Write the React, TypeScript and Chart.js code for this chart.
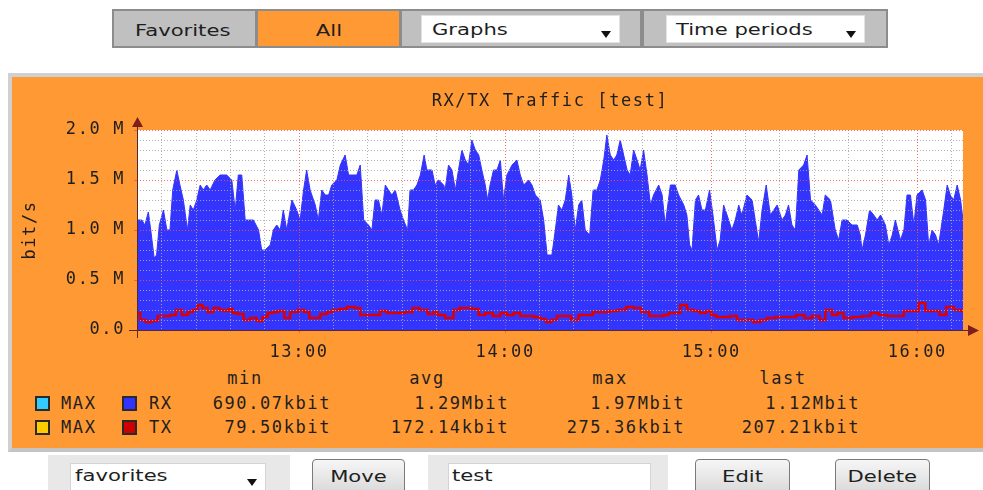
import React, { useEffect, useRef } from "react";
import { Chart, registerables } from "chart.js";

Chart.register(...registerables);

// ---- data (minutes after 12:00, Mbit/s) ----
const rxTimes = [
  12.8, 14.2, 15.1, 16.1, 16.8, 17.8, 18.5, 19.3, 20.5, 21.5,
  22.4, 23.2, 24.4, 25.3, 26.3, 27.5, 28.3, 29.2, 30.2, 31.2,
  32.1, 33.1, 34.1, 35.5, 37.0, 38.9, 40.4, 41.4, 42.3, 43.3,
  44.3, 45.3, 46.7, 48.2, 49.1, 50.1, 51.6, 52.5, 53.5, 54.5,
  55.4, 56.4, 57.9, 59.3, 60.3, 61.3, 62.2, 63.2, 64.7, 65.6,
  66.6, 67.6, 68.6, 69.5, 71.0, 72.0, 73.4, 74.4, 75.4, 76.8,
  77.8, 78.8, 80.2, 81.2, 82.1, 83.1, 84.1, 85.1, 86.0, 87.0,
  88.0,
  89.4, 90.4, 91.6, 92.3, 93.3, 94.3, 95.3, 96.4, 97.2, 98.7,
  99.6, 100.6, 102.1, 102.5, 103.5, 104.5, 105.5, 106.4, 107.4, 108.4,
  109.3, 110.3, 111.3, 112.3, 113.2, 114.2, 114.9, 115.6, 116.6, 117.6,
  118.6, 119.5, 120.5, 122.0, 123.4, 124.4, 125.4, 126.8, 127.8, 128.8,
  130.2, 131.2, 132.2, 133.6, 134.6, 135.5, 136.5, 137.5, 138.5, 139.4,
  140.4, 141.4, 142.3, 143.3, 144.6, 145.6, 146.7, 147.7, 148.7, 149.6,
  150.6, 151.6, 152.5, 153.5, 154.5, 155.5, 156.4, 157.4, 158.4, 159.3,
  160.3, 161.3, 162.3, 163.2, 164.7, 165.7, 166.6,
  168.1, 169.5, 170.5, 172.0, 172.9, 173.7, 174.4, 175.4, 176.3, 177.3,
  178.3, 179.5, 180.5, 181.7, 182.6, 183.6, 184.6, 186.0, 187.0, 188.0,
  188.9, 190.4, 191.9, 192.8, 193.8, 194.8, 196.0, 197.2, 198.2, 199.2,
  200.6, 201.6, 202.5, 203.5, 204.5, 205.5, 206.9, 207.9, 208.9, 210.3,
  211.3, 212.3, 213.2, 214.7, 216.1, 217.1, 218.1, 219.5, 221.0, 222.5,
  223.4, 223.9, 224.9, 226.1, 227.3, 228.3, 229.3, 230.7, 231.7, 232.7,
  233.6, 235.1, 236.1, 237.0, 238.0, 239.0, 239.9, 241.4, 242.4, 243.3,
  244.3, 245.3, 246.2, 247.7, 248.7, 249.6, 250.6, 251.6, 252.6, 253.3,
];
const rxValues = [
  1.1, 1.1, 1.05, 1.18, 1.0, 0.72, 0.75, 1.05, 1.2, 1.0,
  1.0, 1.4, 1.6, 1.45, 1.3, 1.0, 1.25, 1.2, 1.3, 1.45,
  1.4, 1.45, 1.4, 1.5, 1.55, 1.55, 1.5, 1.2, 1.55, 1.55,
  1.1, 1.1, 1.1, 1.0, 0.8, 0.8, 0.85, 1.0, 1.05, 1.0,
  1.2, 1.0, 1.3, 1.2, 1.1, 1.4, 1.6, 1.4, 1.25, 1.1,
  1.4, 1.35, 1.35, 1.45, 1.5, 1.65, 1.75, 1.55, 1.55, 1.55,
  1.65, 1.1, 1.05, 1.0, 1.3, 1.3, 1.15, 1.45, 1.4, 1.35,
  1.4,
  1.2, 1.1, 1.0, 1.4, 1.4, 1.45, 1.55, 1.75, 1.6, 1.6,
  1.45, 1.5, 1.45, 1.4, 1.65, 1.6, 1.4, 1.6, 1.8, 1.7,
  1.65, 1.9, 1.8, 1.75, 1.6, 1.45, 1.3, 1.45, 1.6, 1.6,
  1.7, 1.3, 1.55, 1.65, 1.7, 1.55, 1.45, 1.5, 1.45, 1.35,
  1.3, 1.1, 0.75, 0.75, 1.0, 1.25, 1.2, 1.3, 1.55, 1.35,
  1.0, 1.25, 1.3, 1.0, 0.95, 1.4, 1.4, 1.5, 1.7, 1.95,
  1.75, 1.7, 1.75, 1.9, 1.75, 1.6, 1.55, 1.8, 1.7, 1.6,
  1.8, 1.55, 1.25, 1.35, 1.45, 1.35, 1.05,
  1.45, 1.45, 1.35, 1.25, 1.15, 0.85, 0.8, 1.3, 1.35, 1.2,
  1.2, 1.4, 1.15, 0.8, 0.9, 1.25, 1.15, 1.0, 1.1, 1.25,
  1.15, 1.35, 1.3, 1.1, 0.88, 1.2, 1.45, 1.15, 1.2, 1.25,
  1.1, 1.15, 1.25, 1.05, 1.0, 1.6, 1.65, 1.75, 1.3, 1.25,
  1.2, 1.15, 1.35, 1.3, 1.0, 0.9, 1.1, 1.1, 1.05, 1.05,
  0.95, 0.8, 0.95, 1.2, 1.15, 1.1, 1.15, 1.05, 0.85, 0.95,
  1.1, 0.9, 1.0, 1.35, 1.35, 1.05, 1.35, 1.4, 1.3, 0.85,
  1.0, 0.95, 0.85, 1.2, 1.45, 1.35, 1.3, 1.45, 1.3, 1.1,
];
const txTimes = [
  12.8, 14.7, 16.1, 18.1, 19.5, 21.5, 23.4, 24.9, 26.8, 28.3,
  29.7, 31.2, 32.6, 34.1, 36.0, 37.5, 38.9, 39.9, 41.4, 42.8,
  44.8, 46.7, 48.6, 50.1, 51.6, 53.0, 55.0, 56.4, 58.4, 60.8,
  62.2, 63.7, 65.2, 67.1, 69.0, 70.5, 72.9, 74.9, 77.3, 78.3,
  80.7, 82.6, 84.6, 86.5, 88.5,
  89.4, 92.3, 93.8, 96.2, 98.7, 99.6, 101.1, 104.0, 105.9, 107.4,
  109.3, 111.3, 113.2, 115.2, 117.6, 119.5, 121.5, 123.4, 125.4, 127.3,
  129.2, 131.2, 132.6, 134.1, 136.0, 138.0, 140.4, 142.3, 144.3, 146.7,
  149.1, 151.6, 154.0, 156.4, 158.4, 160.8, 163.2, 165.2, 167.1,
  168.1, 170.0, 172.0, 173.9, 175.8, 177.8, 179.2, 180.7, 182.2, 184.6,
  186.5, 188.5, 191.4, 193.3, 195.3, 197.2, 200.1, 203.0, 206.4, 207.9,
  210.8, 212.3, 214.2, 216.1, 217.6, 219.5, 222.5, 225.4, 227.3, 230.2,
  232.2, 235.1, 237.0, 239.4, 241.4, 243.3, 245.8, 247.2, 249.6, 251.6,
  253.3,
];
const txValues = [
  0.17, 0.1, 0.08, 0.09, 0.14, 0.14, 0.15, 0.2, 0.15, 0.18,
  0.2, 0.25, 0.22, 0.18, 0.22, 0.2, 0.19, 0.21, 0.17, 0.16,
  0.1, 0.12, 0.09, 0.13, 0.17, 0.18, 0.19, 0.12, 0.18, 0.2,
  0.18, 0.12, 0.12, 0.16, 0.18, 0.2, 0.21, 0.23, 0.22, 0.15,
  0.15, 0.15, 0.19, 0.17, 0.17,
  0.17, 0.18, 0.22, 0.2, 0.16, 0.18, 0.15, 0.12, 0.2, 0.22,
  0.22, 0.21, 0.15, 0.17, 0.14, 0.17, 0.15, 0.17, 0.14, 0.14,
  0.13, 0.11, 0.08, 0.1, 0.14, 0.14, 0.1, 0.15, 0.15, 0.18,
  0.18, 0.19, 0.2, 0.23, 0.22, 0.18, 0.14, 0.14, 0.15,
  0.17, 0.17, 0.25, 0.2, 0.19, 0.17, 0.19, 0.15, 0.13, 0.13,
  0.14, 0.1, 0.1, 0.08, 0.1, 0.12, 0.13, 0.13, 0.15, 0.12,
  0.14, 0.1, 0.2, 0.15, 0.17, 0.12, 0.13, 0.14, 0.17, 0.15,
  0.14, 0.14, 0.19, 0.19, 0.27, 0.19, 0.19, 0.15, 0.23, 0.2,
  0.19,
];
const hourMinutes = [60, 120, 180, 240];
const hourLabels = ["13:00", "14:00", "15:00", "16:00"];
const yTickLabels = ["0.0", "0.5 M", "1.0 M", "1.5 M", "2.0 M"];
const legendHeaders = ["min", "avg", "max", "last"];
const rxStats = ["690.07kbit", "1.29Mbit", "1.97Mbit", "1.12Mbit"];
const txStats = ["79.50kbit", "172.14kbit", "275.36kbit", "207.21kbit"];

// ---- styling ----
const MONO = "'DejaVu Sans Mono', monospace";
const SANS = "'DejaVu Sans', Verdana, sans-serif";
const ORANGE = "#ff9933";
const TEXT = "#1e1e1e";
const MINOR = "rgba(170,170,170,0.9)";
const MAJOR = "rgba(255,80,80,0.85)";

const decorPlugin = {
  id: "decor",
  beforeDraw(chart: any) {
    const { ctx, chartArea: a } = chart;
    (ctx as any).letterSpacing = "1.6px";
    ctx.save();
    ctx.fillStyle = "#ffffff";
    ctx.fillRect(a.left, a.top, a.right - a.left, a.bottom - a.top);
    ctx.restore();
  },
  afterDraw(chart: any) {
    const { ctx, chartArea: a } = chart;
    ctx.save();
    const x0 = Math.round(a.left) + 0.5;
    const y0 = Math.round(a.bottom) + 0.5;
    ctx.strokeStyle = "#5a2626";
    ctx.lineWidth = 1;
    ctx.beginPath();
    ctx.moveTo(x0, a.bottom + 8);
    ctx.lineTo(x0, a.top - 5);
    ctx.stroke();
    ctx.beginPath();
    ctx.moveTo(a.left - 8, y0);
    ctx.lineTo(a.right + 6, y0);
    ctx.stroke();
    ctx.fillStyle = "#7d1f1f";
    ctx.beginPath();
    ctx.moveTo(x0, a.top - 13);
    ctx.lineTo(x0 - 5.5, a.top - 3);
    ctx.lineTo(x0 + 5.5, a.top - 3);
    ctx.closePath();
    ctx.fill();
    ctx.beginPath();
    ctx.moveTo(a.right + 16, y0);
    ctx.lineTo(a.right + 5, y0 - 5.5);
    ctx.lineTo(a.right + 5, y0 + 5.5);
    ctx.closePath();
    ctx.fill();
    ctx.restore();
  },
};

function isMajorY(v: number) {
  return Math.round(v * 10) % 5 === 0;
}
function isMajorX(v: number) {
  return Math.round(v) % 60 === 0;
}

function TrafficChart() {
  const ref = useRef<HTMLCanvasElement>(null);
  useEffect(() => {
    if (!ref.current) return;
    const chart = new Chart(ref.current, {
      type: "line",
      data: {
        datasets: [
          {
            label: "RX",
            data: rxTimes.map((t, i) => ({ x: t, y: rxValues[i] })),
            fill: "origin",
            backgroundColor: "#3434ff",
            borderColor: "#3434ff",
            borderWidth: 1,
            pointRadius: 0,
            tension: 0,
            order: 2,
          },
          {
            label: "TX",
            data: txTimes.map((t, i) => ({ x: t, y: txValues[i] })),
            fill: false,
            borderColor: "#dd0000",
            borderWidth: 2.5,
            pointRadius: 0,
            stepped: "middle",
            order: 1,
          },
        ],
      },
      options: {
        animation: false,
        responsive: false,
        devicePixelRatio: 1,
        layout: { padding: { left: 0, right: 20, top: 0, bottom: 0 } },
        plugins: {
          legend: { display: false },
          tooltip: { enabled: false },
          title: {
            display: true,
            text: "RX/TX Traffic [test]",
            fullSize: false,
            color: TEXT,
            font: { family: MONO, size: 17, weight: "normal", lineHeight: 1.2 },
            padding: { top: 14, bottom: 18.6 },
          },
        },
        scales: {
          x: {
            type: "linear",
            min: 12.8,
            max: 253.3,
            afterBuildTicks: (scale: any) => {
              const ticks = [];
              for (let m = 20; m <= 250; m += 10) ticks.push({ value: m });
              scale.ticks = ticks;
            },
            afterFit: (scale: any) => {
              scale.height = 37;
            },
            ticks: {
              autoSkip: false,
              maxRotation: 0,
              minRotation: 0,
              padding: 9,
              color: TEXT,
              font: { family: MONO, size: 17, lineHeight: 1.2 },
              callback: (v: any) => {
                const i = hourMinutes.indexOf(Math.round(Number(v)));
                return i >= 0 ? hourLabels[i] : "";
              },
            },
            grid: {
              z: 1,
              lineWidth: 1,
              tickLength: 3,
              color: (c: any) => (c.tick && isMajorX(c.tick.value) ? MAJOR : MINOR),
              tickColor: (c: any) => (c.tick && isMajorX(c.tick.value) ? MAJOR : MINOR),
            },
            border: { display: false, dash: [1, 2] },
          },
          y: {
            type: "linear",
            min: 0,
            max: 2,
            afterBuildTicks: (scale: any) => {
              const ticks = [];
              for (let k = 0; k <= 20; k++) ticks.push({ value: k / 10 });
              scale.ticks = ticks;
            },
            afterFit: (scale: any) => {
              scale.width = 125;
            },
            title: {
              display: true,
              text: "bit/s",
              color: TEXT,
              font: { family: MONO, size: 17, lineHeight: 1.2 },
              padding: { top: 8, bottom: 0 },
            },
            ticks: {
              autoSkip: false,
              padding: 9,
              color: TEXT,
              font: { family: MONO, size: 17, lineHeight: 1.2 },
              callback: (v: any) => {
                const r = Math.round(Number(v) * 10);
                return r % 5 === 0 ? yTickLabels[r / 5] : "";
              },
            },
            grid: {
              z: 1,
              lineWidth: 1,
              tickLength: 3,
              color: (c: any) => (c.tick && isMajorY(c.tick.value) ? MAJOR : MINOR),
              tickColor: (c: any) => (c.tick && isMajorY(c.tick.value) ? MAJOR : MINOR),
            },
            border: { display: false, dash: [1, 2] },
          },
        },
      } as any,
      plugins: [decorPlugin],
    });
    return () => chart.destroy();
  }, []);
  return (
    <canvas
      ref={ref}
      width={971}
      height={290}
      style={{ position: "absolute", left: 12, top: 77, width: 971, height: 290 }}
    />
  );
}

function Stretch({ children, s = 1.32, origin = "left" }: any) {
  return (
    <span
      style={{
        display: "inline-block",
        transform: `scaleX(${s})`,
        transformOrigin: origin,
        whiteSpace: "nowrap",
      }}
    >
      {children}
    </span>
  );
}

function SansText({ left, top, width, text, center }: any) {
  return (
    <div
      style={{
        position: "absolute",
        left,
        top,
        width: center ? width : undefined,
        textAlign: center ? "center" : "left",
        fontFamily: SANS,
        fontSize: 16,
        lineHeight: "18px",
        color: TEXT,
        whiteSpace: "nowrap",
      }}
    >
      <Stretch origin={center ? "center" : "left"}>{text}</Stretch>
    </div>
  );
}

function Tri({ left, top }: any) {
  return (
    <div
      style={{
        position: "absolute",
        left,
        top,
        width: 0,
        height: 0,
        borderLeft: "5px solid transparent",
        borderRight: "5px solid transparent",
        borderTop: "7px solid #111",
      }}
    />
  );
}

function Box({ left, top, width, height, bg, border, radius }: any) {
  return (
    <div
      style={{
        position: "absolute",
        left,
        top,
        width,
        height,
        background: bg,
        border,
        borderRadius: radius,
        boxSizing: "border-box",
      }}
    />
  );
}

function MonoText({ x, y, text, align }: any) {
  const w = 200;
  const left = align === "right" ? x - w : align === "center" ? x - w / 2 : x;
  return (
    <div
      style={{
        position: "absolute",
        left,
        top: y - 10,
        width: w,
        textAlign: align || "left",
        fontFamily: MONO,
        fontSize: 17,
        lineHeight: "20px",
        letterSpacing: "1.6px",
        color: TEXT,
        whiteSpace: "nowrap",
      }}
    >
      {text}
    </div>
  );
}

function Swatch({ left, top, color }: any) {
  return (
    <div
      style={{
        position: "absolute",
        left,
        top,
        width: 15,
        height: 15,
        background: color,
        border: "2px solid #2a2a2a",
        boxSizing: "border-box",
      }}
    />
  );
}

const statCols = [331, 509, 685, 860];
const headerCols = [245, 427, 610, 783];

export default function App() {
  return (
    <div
      style={{
        position: "fixed",
        left: 0,
        top: 0,
        width: 983,
        height: 490,
        overflow: "hidden",
        background: "#ffffff",
      }}
    >
      {/* top tab bar */}
      <Box left={112} top={9} width={776} height={39} bg="#8c8c8c" />
      <Box left={114} top={11} width={141} height={35} bg="#c0c0c0" />
      <Box left={258} top={11} width={141} height={35} bg={ORANGE} />
      <Box left={402} top={11} width={238} height={35} bg="#c0c0c0" />
      <Box left={644} top={11} width={242} height={35} bg="#c0c0c0" />
      <Box left={421} top={15} width={199} height={28} bg="#ffffff" border="1px solid #e2e2e2" />
      <Box left={666} top={15} width={199} height={28} bg="#ffffff" border="1px solid #e2e2e2" />
      <SansText left={135} top={22} text="Favorites" />
      <SansText left={258} top={22} width={141} text="All" center />
      <SansText left={432} top={21} text="Graphs" />
      <SansText left={676} top={21} text="Time periods" />
      <Tri left={601} top={31} />
      <Tri left={846} top={31} />

      {/* orange graph panel */}
      <div
        style={{
          position: "absolute",
          left: 8,
          top: 73,
          width: 1000,
          height: 379,
          background: ORANGE,
          borderTop: "4px solid #d0d0d0",
          borderLeft: "4px solid #d0d0d0",
          borderBottom: "4px solid #c4c4c4",
          boxSizing: "border-box",
        }}
      />
      <TrafficChart />

      {/* legend */}
      {legendHeaders.map((h, i) => (
        <MonoText key={h} x={headerCols[i]} y={378} text={h} align="center" />
      ))}
      <Swatch left={35} top={396} color="#33ccff" />
      <MonoText x={61} y={403} text="MAX" />
      <Swatch left={122} top={396} color="#3333ff" />
      <MonoText x={149} y={403} text="RX" />
      {rxStats.map((s, i) => (
        <MonoText key={"rx" + i} x={statCols[i]} y={403} text={s} align="right" />
      ))}
      <Swatch left={35} top={420} color="#ffcc00" />
      <MonoText x={61} y={427} text="MAX" />
      <Swatch left={122} top={420} color="#cc0000" />
      <MonoText x={149} y={427} text="TX" />
      {txStats.map((s, i) => (
        <MonoText key={"tx" + i} x={statCols[i]} y={427} text={s} align="right" />
      ))}

      {/* bottom controls */}
      <Box left={48} top={455} width={242} height={40} bg="#e8e8e8" />
      <Box left={70} top={463} width={196} height={32} bg="#ffffff" border="1px solid #d4d4d4" />
      <SansText left={75} top={467} text="favorites" />
      <Tri left={247} top={479} />
      <Box
        left={312}
        top={459}
        width={93}
        height={36}
        bg="linear-gradient(#f6f6f6, #d8d8d8)"
        border="1px solid #7a7a7a"
        radius={4}
      />
      <SansText left={312} top={468} width={93} text="Move" center />
      <Box left={428} top={455} width={240} height={40} bg="#e8e8e8" />
      <Box left={448} top={463} width={203} height={32} bg="#ffffff" border="1px solid #d4d4d4" />
      <SansText left={452} top={467} text="test" />
      <Box
        left={695}
        top={459}
        width={95}
        height={36}
        bg="linear-gradient(#f6f6f6, #d8d8d8)"
        border="1px solid #7a7a7a"
        radius={4}
      />
      <SansText left={695} top={468} width={95} text="Edit" center />
      <Box
        left={835}
        top={459}
        width={95}
        height={36}
        bg="linear-gradient(#f6f6f6, #d8d8d8)"
        border="1px solid #7a7a7a"
        radius={4}
      />
      <SansText left={835} top={468} width={95} text="Delete" center />
    </div>
  );
}
